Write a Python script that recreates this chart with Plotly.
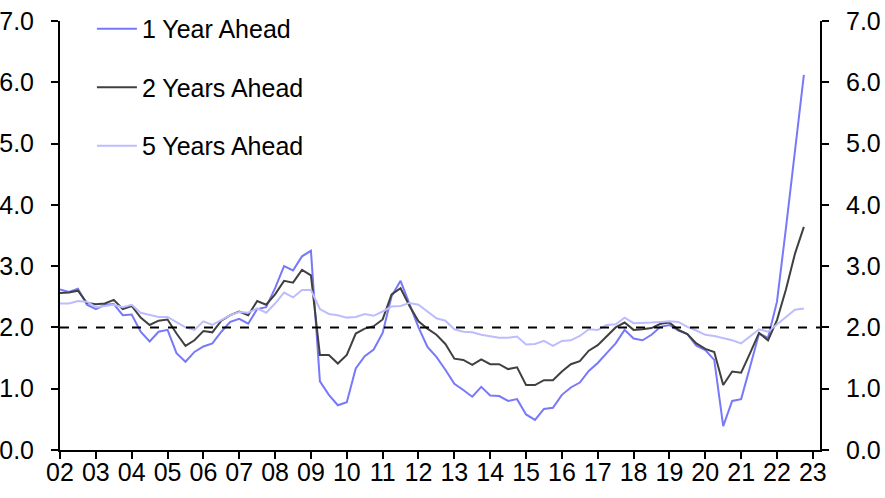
import plotly.graph_objects as go

# Quarterly observations, 2002Q1 .. 2022Q4
start_year = 2002
n_quarters = 84

one_year = [2.62, 2.58, 2.63, 2.37, 2.30, 2.37, 2.38, 2.20, 2.21, 1.93,
            1.77, 1.93, 1.96, 1.58, 1.44, 1.60, 1.69, 1.74, 1.93, 2.09,
            2.14, 2.06, 2.30, 2.33, 2.64, 3.00, 2.93, 3.16, 3.25, 1.12,
            0.90, 0.73, 0.78, 1.33, 1.53, 1.64, 1.91, 2.51, 2.76, 2.39,
            2.00, 1.68, 1.52, 1.31, 1.08, 0.98, 0.87, 1.03, 0.89, 0.88,
            0.80, 0.83, 0.58, 0.49, 0.67, 0.69, 0.90, 1.02, 1.10, 1.29,
            1.42, 1.58, 1.74, 1.96, 1.82, 1.79, 1.88, 2.01, 2.04, 1.95,
            1.89, 1.70, 1.63, 1.47, 0.39, 0.80, 0.83, 1.36, 1.90, 1.83,
            2.42, 3.62, 4.85, 6.12]

two_years = [2.56, 2.57, 2.60, 2.40, 2.38, 2.39, 2.45, 2.30, 2.35, 2.16,
             2.04, 2.11, 2.13, 1.90, 1.70, 1.79, 1.94, 1.92, 2.11, 2.20,
             2.26, 2.20, 2.43, 2.37, 2.54, 2.76, 2.73, 2.94, 2.85, 1.55,
             1.55, 1.41, 1.55, 1.90, 1.98, 2.02, 2.13, 2.54, 2.64, 2.35,
             2.10, 1.98, 1.88, 1.73, 1.49, 1.47, 1.39, 1.48, 1.40, 1.40,
             1.32, 1.35, 1.06, 1.06, 1.14, 1.14, 1.28, 1.40, 1.45, 1.62,
             1.71, 1.86, 2.00, 2.08, 1.96, 1.97, 1.99, 2.06, 2.08, 1.96,
             1.89, 1.74, 1.65, 1.60, 1.06, 1.28, 1.26, 1.58, 1.91, 1.79,
             2.12, 2.62, 3.20, 3.64]

five_years = [2.39, 2.39, 2.43, 2.42, 2.33, 2.35, 2.37, 2.33, 2.37, 2.24,
              2.20, 2.17, 2.17, 2.09, 2.00, 1.96, 2.10, 2.04, 2.12, 2.20,
              2.25, 2.24, 2.31, 2.24, 2.39, 2.57, 2.49, 2.61, 2.61, 2.30,
              2.22, 2.20, 2.16, 2.17, 2.22, 2.19, 2.26, 2.34, 2.35, 2.40,
              2.37, 2.26, 2.15, 2.11, 1.97, 1.93, 1.92, 1.88, 1.85, 1.83,
              1.83, 1.85, 1.72, 1.73, 1.78, 1.70, 1.78, 1.79, 1.86, 1.97,
              1.96, 2.04, 2.05, 2.16, 2.07, 2.07, 2.08, 2.09, 2.10, 2.09,
              2.01, 1.95, 1.88, 1.86, 1.83, 1.79, 1.74, 1.85, 1.97, 1.93,
              2.05, 2.16, 2.29, 2.31]

target = 2.0
tick_years = list(range(2002, 2024))
tick_labels = [f"{y % 100:02d}" for y in tick_years]
y_ticks = [0, 1, 2, 3, 4, 5, 6, 7]

x = [start_year + i / 4 for i in range(n_quarters)]

FONT = "Liberation Sans, Arial, sans-serif"
FS = 25
fig = go.Figure()

series = [
    ("1 Year Ahead", one_year, "#7878fa"),
    ("2 Years Ahead", two_years, "#404040"),
    ("5 Years Ahead", five_years, "#bdbdfd"),
]
for i, (name, vals, col) in enumerate(series):
    fig.add_trace(go.Scatter(x=x, y=vals, mode="lines", name=name,
                             legendgroup=f"g{i}",
                             line=dict(color=col, width=2)))

x_range = [tick_years[0], tick_years[-1] + 0.2]

# target line drawn on the secondary (right) axis
fig.add_trace(go.Scatter(x=x_range, y=[target, target],
                         mode="lines", yaxis="y2", showlegend=False, hoverinfo="skip",
                         line=dict(color="black", width=2, dash="dash")))

axis_common = dict(range=[0, 7], tickvals=y_ticks, tickformat=".1f",
                   showgrid=False, zeroline=False, showline=True,
                   linecolor="black", linewidth=2, ticks="outside",
                   ticklen=7, tickwidth=2, tickcolor="black", automargin=False,
                   ticklabelstandoff=12,
                   tickfont=dict(size=FS, color="black", family=FONT))

fig.update_layout(
    width=885, height=498,
    margin=dict(l=60, r=65, t=21, b=48, autoexpand=False),
    paper_bgcolor="white", plot_bgcolor="white",
    font=dict(family=FONT, size=FS, color="black"),
    xaxis=dict(range=x_range, tickvals=tick_years,
               ticktext=tick_labels, showgrid=False, zeroline=False,
               showline=True, linecolor="black", linewidth=2,
               ticks="outside", ticklen=7, tickwidth=2, tickcolor="black",
               automargin=False, ticklabelstandoff=-8,
               tickfont=dict(size=FS, color="black", family=FONT)),
    yaxis=dict(**axis_common, side="left"),
    yaxis2=dict(**axis_common, side="right", overlaying="y"),
    legend=dict(x=0.042, y=1.035, xanchor="left", yanchor="top",
                traceorder="grouped", tracegroupgap=23, itemwidth=40,
                bgcolor="rgba(0,0,0,0)", font=dict(size=FS, family=FONT)),
    showlegend=True,
)

fig.write_html("out.html",
               config={"displayModeBar": False},
               post_script="document.body.style.margin='0px';document.body.style.overflow='hidden';")
